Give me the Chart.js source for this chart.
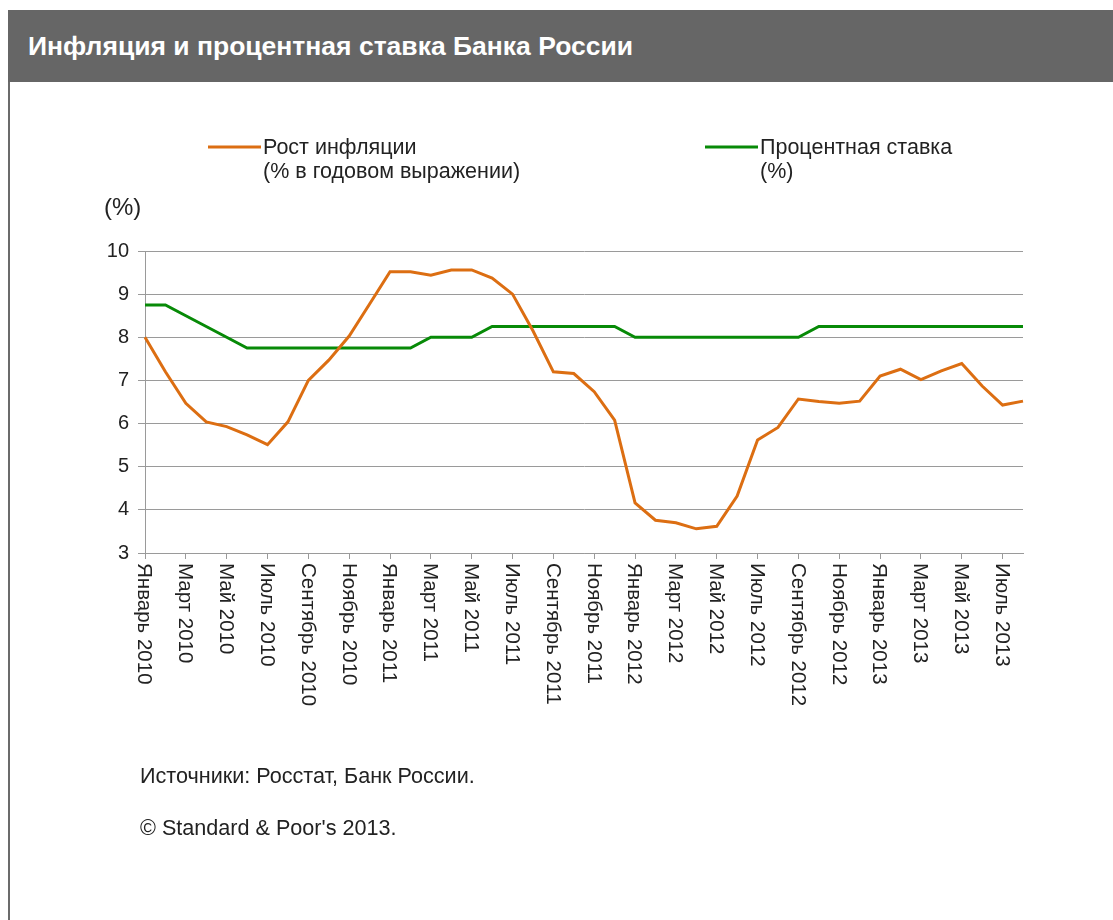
<!DOCTYPE html>
<html lang="ru">
<head>
<meta charset="utf-8">
<title>Инфляция и процентная ставка Банка России</title>
<script src="https://cdn.jsdelivr.net/npm/chart.js@4.4.0/dist/chart.umd.min.js"></script>
<style>
    html, body {
        margin: 0;
        padding: 0;
        background: #ffffff;
        font-family: "Liberation Sans", Arial, sans-serif;
    }
    .page {
        position: relative;
        width: 1113px;
        height: 920px;
        overflow: hidden;
    }
    .title-bar {
        position: absolute;
        left: 8px;
        top: 10px;
        width: 1105px;
        height: 72px;
        background: #666666;
        color: #ffffff;
        font-weight: bold;
        font-size: 26.5px;
        line-height: 72px;
        padding-left: 20px;
        box-sizing: border-box;
    }
    .left-border {
        position: absolute;
        left: 8px;
        top: 82px;
        width: 2px;
        height: 838px;
        background: #6b6b6b;
    }
    .unit {
        position: absolute;
        left: 104px;
        top: 193px;
        font-size: 24px;
        color: #222222;
    }
    .note {
        position: absolute;
        left: 140px;
        font-size: 21.6px;
        color: #222222;
        white-space: nowrap;
    }
    canvas {
        position: absolute;
        left: 0;
        top: 0;
    }
</style>
</head>
<body>
<div class="page">
    <div class="title-bar">Инфляция и процентная ставка Банка России</div>
    <div class="left-border"></div>
    <canvas id="rateChart" width="1113" height="920"></canvas>
    <div class="unit">(%)</div>
    <div class="note" style="top: 763px;">Источники: Росстат, Банк России.</div>
    <div class="note" style="top: 815px;">© Standard &amp; Poor's 2013.</div>
</div>

<script>
// Months, January 2010 - August 2013
const months = [
    'Январь 2010', 'Февраль 2010', 'Март 2010', 'Апрель 2010', 'Май 2010', 'Июнь 2010',
    'Июль 2010', 'Август 2010', 'Сентябрь 2010', 'Октябрь 2010', 'Ноябрь 2010', 'Декабрь 2010',
    'Январь 2011', 'Февраль 2011', 'Март 2011', 'Апрель 2011', 'Май 2011', 'Июнь 2011',
    'Июль 2011', 'Август 2011', 'Сентябрь 2011', 'Октябрь 2011', 'Ноябрь 2011', 'Декабрь 2011',
    'Январь 2012', 'Февраль 2012', 'Март 2012', 'Апрель 2012', 'Май 2012', 'Июнь 2012',
    'Июль 2012', 'Август 2012', 'Сентябрь 2012', 'Октябрь 2012', 'Ноябрь 2012', 'Декабрь 2012',
    'Январь 2013', 'Февраль 2013', 'Март 2013', 'Апрель 2013', 'Май 2013', 'Июнь 2013',
    'Июль 2013', 'Август 2013'
];

const inflation = [
    8.0, 7.2, 6.47, 6.04, 5.93, 5.74, 5.51, 6.04, 7.0, 7.47, 8.03, 8.77,
    9.52, 9.52, 9.44, 9.56, 9.56, 9.37, 9.0, 8.15, 7.2, 7.16, 6.74, 6.08,
    4.16, 3.76, 3.7, 3.56, 3.62, 4.32, 5.62, 5.91, 6.57, 6.51, 6.47, 6.52,
    7.1, 7.26, 7.02, 7.22, 7.39, 6.87, 6.43, 6.52
];

const keyRate = [
    8.75, 8.75, 8.5, 8.25, 8.0, 7.75, 7.75, 7.75, 7.75, 7.75, 7.75, 7.75,
    7.75, 7.75, 8.0, 8.0, 8.0, 8.25, 8.25, 8.25, 8.25, 8.25, 8.25, 8.25,
    8.0, 8.0, 8.0, 8.0, 8.0, 8.0, 8.0, 8.0, 8.0, 8.25, 8.25, 8.25,
    8.25, 8.25, 8.25, 8.25, 8.25, 8.25, 8.25, 8.25
];

const yTicks = [3, 4, 5, 6, 7, 8, 9, 10];

const inflationLabel = ['Рост инфляции', '(% в годовом выражении)'];
const rateLabel = ['Процентная ставка', '(%)'];

const ORANGE = '#DC6E12';
const GREEN = '#078A07';
const GRID = '#9a9a9a';
const TEXT = '#222222';
const FONT = '"Liberation Sans", Arial, sans-serif';

// vertical month labels, read top to bottom, every second month
const monthLabels = {
    id: 'monthLabels',
    afterDraw(chart) {
        const xs = chart.scales.x;
        const ctx = chart.ctx;
        ctx.save();
        ctx.font = '20.5px ' + FONT;
        ctx.fillStyle = TEXT;
        ctx.textAlign = 'left';
        ctx.textBaseline = 'middle';
        xs.ticks.forEach((t, i) => {
            if (i % 2) return;
            ctx.save();
            ctx.translate(xs.getPixelForTick(i) - 1, xs.top + 10);
            ctx.rotate(Math.PI / 2);
            ctx.fillText(months[i], 0, 0);
            ctx.restore();
        });
        ctx.restore();
    }
};

// two-line legend above the plot
const sideLegend = {
    id: 'sideLegend',
    afterDraw(chart) {
        const ctx = chart.ctx;
        const spots = [208, 705];
        ctx.save();
        ctx.font = '21.5px ' + FONT;
        ctx.fillStyle = TEXT;
        ctx.textAlign = 'left';
        ctx.textBaseline = 'middle';
        chart.data.datasets.forEach((ds, k) => {
            const x = spots[k];
            ctx.strokeStyle = ds.borderColor;
            ctx.lineWidth = 3;
            ctx.beginPath();
            ctx.moveTo(x, 147);
            ctx.lineTo(x + 53, 147);
            ctx.stroke();
            ds.legendLines.forEach((line, j) => {
                ctx.fillText(line, x + 55, 148 + j * 24);
            });
        });
        ctx.restore();
    }
};

new Chart(document.getElementById('rateChart'), {
    type: 'line',
    data: {
        labels: months,
        datasets: [{
            label: inflationLabel.join(' '),
            legendLines: inflationLabel,
            data: inflation,
            borderColor: ORANGE,
            backgroundColor: ORANGE,
            borderWidth: 3,
            pointRadius: 0,
            tension: 0
        }, {
            label: rateLabel.join(' '),
            legendLines: rateLabel,
            data: keyRate,
            borderColor: GREEN,
            backgroundColor: GREEN,
            borderWidth: 3,
            pointRadius: 0,
            tension: 0
        }]
    },
    options: {
        responsive: false,
        animation: false,
        layout: {
            padding: { left: 0, right: 90, top: 251, bottom: 167 }
        },
        plugins: {
            legend: { display: false },
            tooltip: { enabled: false }
        },
        scales: {
            x: {
                afterFit(scale) { scale.height = 200; },
                grid: {
                    drawOnChartArea: false,
                    tickLength: 6,
                    color: (c) => (c.index % 2 === 0 ? GRID : 'rgba(0,0,0,0)')
                },
                border: { color: GRID, width: 1 },
                ticks: { display: false, autoSkip: false }
            },
            y: {
                min: 3,
                max: 10,
                afterFit(scale) { scale.width = 145; },
                afterBuildTicks(scale) {
                    scale.ticks = yTicks.map(v => ({ value: v }));
                },
                grid: {
                    color: GRID,
                    lineWidth: 1,
                    tickLength: 7
                },
                border: { color: GRID, width: 1 },
                ticks: {
                    color: TEXT,
                    padding: 9,
                    font: { family: FONT, size: 20 }
                }
            }
        }
    },
    plugins: [monthLabels, sideLegend]
});
</script>
</body>
</html>
